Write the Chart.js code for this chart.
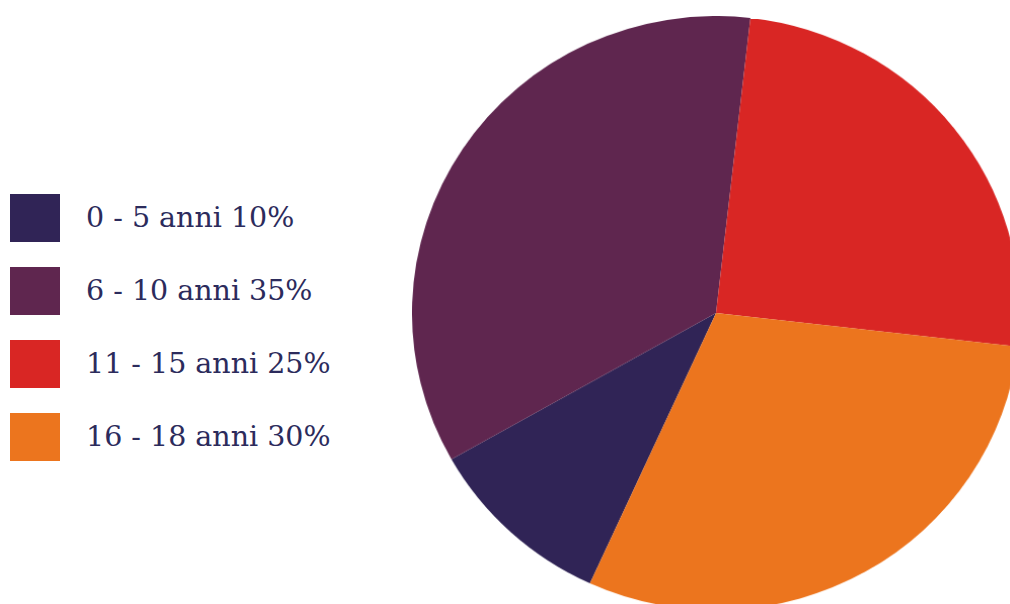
<!DOCTYPE html>
<html lang="it">
<head>
<meta charset="utf-8">
<title>Fasce d'età</title>
<script src="https://cdn.jsdelivr.net/npm/chart.js@4"></script>
<style>
  html, body { margin: 0; padding: 0; width: 1010px; height: 604px; overflow: hidden; background: #ffffff; }
  #pie-wrap { position: absolute; left: 412px; top: 16px; width: 608px; height: 594px; }
  #pie { display: block; width: 608px !important; height: 594px !important; }
  #legend { position: absolute; left: 10px; top: 194px; margin: 0; padding: 0; list-style: none; }
  #legend li { display: flex; align-items: center; height: 48px; margin-bottom: 25px; }
  #legend .sw { width: 50px; height: 48px; flex: none; }
  #legend .tx { margin-left: 26px; font-family: "DejaVu Serif", serif; font-size: 28.5px; color: #2c2b5c; white-space: nowrap; position: relative; top: -1px; }
</style>
</head>
<body>
<ul id="legend"></ul>
<div id="pie-wrap"><canvas id="pie" width="600" height="600"></canvas></div>
<script>
// Age bands and their shares (%)
const ageBands = ["0 - 5 anni", "6 - 10 anni", "11 - 15 anni", "16 - 18 anni"];
const shares = [10, 35, 25, 30];
const bandColors = ["#302456", "#5f264f", "#d92624", "#ec751e"];

// Legend entries built from the same arrays
const legend = document.getElementById("legend");
ageBands.forEach((band, i) => {
  const li = document.createElement("li");
  const sw = document.createElement("span");
  sw.className = "sw";
  sw.style.background = bandColors[i];
  const tx = document.createElement("span");
  tx.className = "tx";
  tx.textContent = band + " " + shares[i] + "%";
  li.appendChild(sw);
  li.appendChild(tx);
  legend.appendChild(li);
});

new Chart(document.getElementById("pie"), {
  type: "pie",
  data: {
    labels: ageBands,
    datasets: [{
      data: shares,
      backgroundColor: bandColors,
      borderWidth: 0,
      hoverOffset: 0
    }]
  },
  options: {
    responsive: false,
    animation: false,
    rotation: 204.5,
    layout: { padding: 0 },
    plugins: {
      legend: { display: false },
      tooltip: { enabled: false }
    }
  }
});
</script>
</body>
</html>
